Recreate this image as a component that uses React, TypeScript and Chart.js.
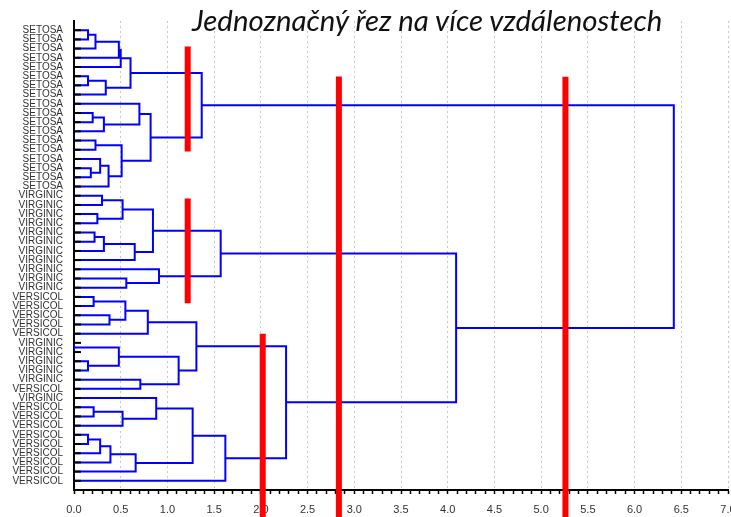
import React, { useEffect, useRef } from "react";
import { Chart, registerables } from "chart.js";

Chart.register(...registerables);

// ---- data ----
const titleText = "Jednoznačný řez na více vzdálenostech";

const leafLabels: string[] = [
  "SETOSA", "SETOSA", "SETOSA", "SETOSA", "SETOSA", "SETOSA", "SETOSA", "SETOSA", "SETOSA",
  "SETOSA", "SETOSA", "SETOSA", "SETOSA", "SETOSA", "SETOSA", "SETOSA", "SETOSA", "SETOSA",
  "VIRGINIC", "VIRGINIC", "VIRGINIC", "VIRGINIC", "VIRGINIC", "VIRGINIC", "VIRGINIC", "VIRGINIC",
  "VIRGINIC", "VIRGINIC", "VIRGINIC",
  "VERSICOL", "VERSICOL", "VERSICOL", "VERSICOL", "VERSICOL",
  "VIRGINIC", "VIRGINIC", "VIRGINIC", "VIRGINIC", "VIRGINIC",
  "VERSICOL", "VIRGINIC",
  "VERSICOL", "VERSICOL", "VERSICOL", "VERSICOL", "VERSICOL", "VERSICOL", "VERSICOL", "VERSICOL", "VERSICOL",
];

// [left child, right child, linkage distance]; ids >= 50 refer to earlier merges (50 + merge index)
const merges: [number, number, number][] = [
  [0, 1, 0.15],    // 50
  [50, 2, 0.23],   // 51
  [51, 3, 0.48],   // 52
  [52, 4, 0.50],   // 53
  [5, 6, 0.15],    // 54
  [54, 7, 0.34],   // 55
  [53, 55, 0.605], // 56
  [9, 10, 0.20],   // 57
  [57, 11, 0.32],  // 58
  [8, 58, 0.70],   // 59
  [12, 13, 0.23],  // 60
  [15, 16, 0.18],  // 61
  [14, 61, 0.28],  // 62
  [62, 17, 0.37],  // 63
  [60, 63, 0.51],  // 64
  [59, 64, 0.82],  // 65
  [56, 65, 1.367], // 66
  [18, 19, 0.30],  // 67
  [20, 21, 0.25],  // 68
  [67, 68, 0.52],  // 69
  [22, 23, 0.22],  // 70
  [70, 24, 0.32],  // 71
  [71, 25, 0.65],  // 72
  [69, 72, 0.845], // 73
  [27, 28, 0.56],  // 74
  [26, 74, 0.91],  // 75
  [73, 75, 1.57],  // 76
  [29, 30, 0.21],  // 77
  [31, 32, 0.38],  // 78
  [77, 78, 0.55],  // 79
  [79, 33, 0.79],  // 80
  [34, 35, 0.0],   // 81
  [36, 37, 0.15],  // 82
  [81, 82, 0.48],  // 83
  [38, 39, 0.71],  // 84
  [83, 84, 1.12],  // 85
  [80, 85, 1.31],  // 86
  [41, 42, 0.21],  // 87
  [87, 43, 0.52],  // 88
  [40, 88, 0.88],  // 89
  [44, 45, 0.15],  // 90
  [90, 46, 0.28],  // 91
  [91, 47, 0.39],  // 92
  [92, 48, 0.66],  // 93
  [89, 93, 1.27],  // 94
  [94, 49, 1.62],  // 95
  [86, 95, 2.27],  // 96
  [76, 96, 4.09],  // 97
  [66, 97, 6.42],  // 98
];

// red "cut" bars: distance, leaf-position from, leaf-position to
const cutDistance = [1.217, 1.217, 2.02, 2.835, 5.26];
const cutFrom = [1.76, 18.3, 33.0, 5.03, 5.06];
const cutTo = [13.2, 29.7, 53.0, 53.0, 53.0];

const xMin = 0;
const xMax = 7;

// ---- helpers ----
function buildDendrogram() {
  const nodes: { h: number; y: number }[] = leafLabels.map((_, i) => ({ h: 0, y: i }));
  const pts: { x: number | null; y: number | null }[] = [];
  merges.forEach(([a, b, h]) => {
    const A = nodes[a];
    const B = nodes[b];
    pts.push({ x: A.h, y: A.y }, { x: h, y: A.y }, { x: h, y: B.y }, { x: B.h, y: B.y }, { x: null, y: null });
    nodes.push({ h, y: (A.y + B.y) / 2 });
  });
  return pts;
}

function buildCuts() {
  const pts: { x: number | null; y: number | null }[] = [];
  cutDistance.forEach((d, i) => {
    pts.push({ x: d, y: cutFrom[i] }, { x: d, y: cutTo[i] }, { x: null, y: null });
  });
  return pts;
}

const isHalf = (v: number) => Math.abs(v * 2 - Math.round(v * 2)) < 1e-6;

const leafTickPlugin = {
  id: "leafTicks",
  afterDatasetsDraw(chart: any) {
    const { ctx, scales } = chart;
    const x = scales.x;
    const y = scales.y;
    const x0 = x.getPixelForValue(0);
    ctx.save();
    ctx.strokeStyle = "#000";
    ctx.lineWidth = 2;
    leafLabels.forEach((_, i) => {
      const py = y.getPixelForValue(i);
      ctx.beginPath();
      ctx.moveTo(x0, py);
      ctx.lineTo(x0 + 7, py);
      ctx.stroke();
    });
    ctx.restore();
  },
};

export default function App() {
  const canvasRef = useRef<HTMLCanvasElement | null>(null);

  useEffect(() => {
    const canvas = canvasRef.current;
    if (!canvas) return;
    const chart = new Chart(canvas, {
      type: "line",
      data: {
        datasets: [
          {
            label: "cuts",
            data: buildCuts() as any,
            borderColor: "#ff0000",
            borderWidth: 6,
            borderCapStyle: "butt",
            pointRadius: 0,
            spanGaps: false,
            clip: false as any,
            order: 0,
          },
          {
            label: "tree",
            data: buildDendrogram() as any,
            borderColor: "#0000ff",
            borderWidth: 2,
            borderJoinStyle: "miter",
            pointRadius: 0,
            spanGaps: false,
            order: 1,
          },
        ],
      },
      options: {
        animation: false,
        responsive: false,
        maintainAspectRatio: false,
        devicePixelRatio: 1,
        layout: { padding: { left: 0, right: 32, top: 21, bottom: 0 } },
        plugins: { legend: { display: false }, tooltip: { enabled: false }, title: { display: false } },
        elements: { line: { tension: 0 } },
        scales: {
          x: {
            type: "linear",
            min: xMin,
            max: xMax,
            afterFit: (s: any) => {
              s.height = 27;
            },
            ticks: {
              stepSize: 0.1,
              autoSkip: false,
              maxRotation: 0,
              padding: 9,
              color: "#333",
              font: { family: "'Liberation Sans Narrow', 'Arial Narrow', 'Liberation Sans', Arial", size: 11 },
              callback: (v: any) => (isHalf(Number(v)) ? Number(v).toFixed(1) : ""),
            },
            grid: {
              drawOnChartArea: true,
              drawTicks: true,
              tickLength: 4,
              tickColor: "#000",
              tickWidth: 1.5,
              lineWidth: 1,
              color: (c: any) => {
                const v = c.tick ? c.tick.value : 0;
                return v > 0.01 && isHalf(v) ? "#c8c8c8" : "rgba(0,0,0,0)";
              },
            },
            border: { display: true, color: "#000", width: 2, dash: [2, 3] },
          },
          y: {
            type: "linear",
            reverse: true,
            min: -1,
            max: 50,
            z: 1,
            afterFit: (s: any) => {
              s.width = 74;
            },
            afterBuildTicks: (s: any) => {
              s.ticks = leafLabels.map((_, i) => ({ value: i }));
            },
            ticks: {
              autoSkip: false,
              padding: 11,
              color: "#333",
              font: { family: "'Liberation Sans', Arial", size: 10 },
              callback: (v: any) => leafLabels[Number(v)] ?? "",
            },
            grid: { display: true, drawOnChartArea: false, drawTicks: false },
            border: { display: true, color: "#000", width: 2 },
          },
        },
      },
      plugins: [leafTickPlugin],
    });
    return () => chart.destroy();
  }, []);

  return (
    <div
      style={{
        position: "absolute",
        left: 0,
        top: 0,
        width: 731,
        height: 517,
        overflow: "hidden",
        background: "#fff",
      }}
    >
      <canvas ref={canvasRef} width={760} height={517} style={{ display: "block" }} />
      <div
        style={{
          position: "absolute",
          left: 192,
          top: 5,
          fontFamily: "Lato, 'Open Sans', sans-serif",
          fontStyle: "italic",
          fontSize: 29.4,
          lineHeight: "30px",
          color: "#111",
          whiteSpace: "nowrap",
        }}
      >
        {titleText}
      </div>
    </div>
  );
}
